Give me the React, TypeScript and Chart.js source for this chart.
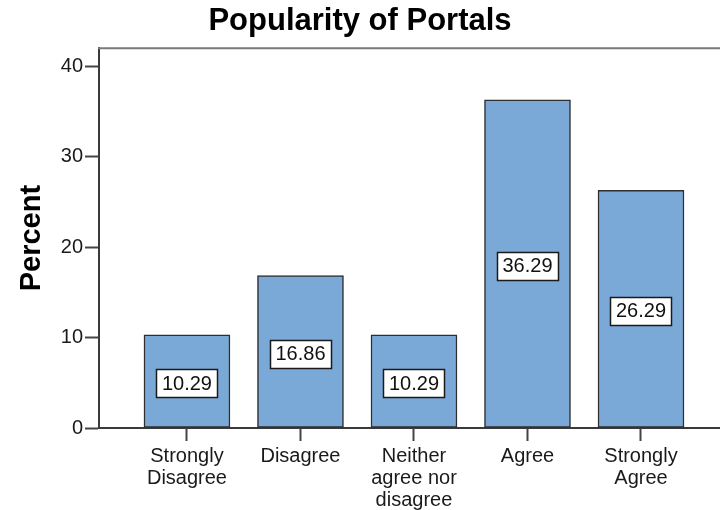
import React, { useEffect, useRef } from "react";
import { Chart, registerables } from "chart.js";

Chart.register(...registerables);

const chartTitle = "Popularity of Portals";
const yAxisTitle = "Percent";
const categories: string[][] = [
  ["Strongly", "Disagree"],
  ["Disagree"],
  ["Neither", "agree nor", "disagree"],
  ["Agree"],
  ["Strongly", "Agree"],
];
const percentValues: number[] = [10.29, 16.86, 10.29, 36.29, 26.29];
const yTickValues: number[] = [0, 10, 20, 30, 40];

const FONT = "'Liberation Sans', Arial, Helvetica, sans-serif";
const BAR_COLOR = "#7aa9d8";

const valueBoxPlugin = {
  id: "valueBoxes",
  afterDatasetsDraw(chart: any) {
    const ctx = chart.ctx;
    const meta = chart.getDatasetMeta(0);
    ctx.save();
    ctx.font = `20px ${FONT}`;
    meta.data.forEach((bar: any, i: number) => {
      const text = percentValues[i].toFixed(2);
      const { x, y, base } = bar.getProps(["x", "y", "base"], true);
      const cy = (y + base) / 2 + 2;
      const w = Math.round(ctx.measureText(text).width + 11);
      const h = 28;
      const lx = Math.round(x - w / 2) + 0.5;
      const ty = Math.round(cy - h / 2) + 0.5;
      ctx.fillStyle = "#ffffff";
      ctx.fillRect(lx, ty, w, h);
      ctx.strokeStyle = "#1a1a1a";
      ctx.lineWidth = 1.5;
      ctx.strokeRect(lx, ty, w, h);
      ctx.fillStyle = "#111111";
      ctx.textAlign = "center";
      ctx.textBaseline = "middle";
      ctx.fillText(text, x, cy + 1);
    });
    ctx.restore();
  },
};

const frameTopPlugin = {
  id: "frameTop",
  afterDraw(chart: any) {
    const { left, right, top } = chart.chartArea;
    const ctx = chart.ctx;
    ctx.save();
    ctx.strokeStyle = "#7a7a7a";
    ctx.lineWidth = 2;
    ctx.beginPath();
    ctx.moveTo(left - 1, top);
    ctx.lineTo(right + 10, top);
    ctx.stroke();
    ctx.restore();
  },
};

export default function App() {
  const canvasRef = useRef<HTMLCanvasElement | null>(null);

  useEffect(() => {
    if (!canvasRef.current) return;
    const chart = new Chart(canvasRef.current, {
      type: "bar",
      data: {
        datasets: [
          {
            label: yAxisTitle,
            data: percentValues.map((v, i) => ({ x: i, y: v })),
            backgroundColor: BAR_COLOR,
            borderColor: "#2e2e2e",
            borderWidth: 1.5,
            borderSkipped: false,
            barThickness: 86,
          },
        ],
      },
      options: {
        responsive: false,
        animation: false,
        events: [],
        layout: { padding: 0 },
        plugins: {
          legend: { display: false },
          tooltip: { enabled: false },
          title: {
            display: true,
            text: chartTitle,
            color: "#000000",
            font: { family: FONT, size: 31, weight: "bold" },
            padding: { top: 3, bottom: 8 },
          },
        },
        scales: {
          x: {
            type: "linear",
            offset: false,
            min: -0.775,
            max: 4.696,
            afterBuildTicks(scale: any) {
              scale.ticks = categories.map((_, i) => ({ value: i }));
            },
            afterFit(scale: any) {
              scale.height = 82;
            },
            ticks: {
              autoSkip: false,
              maxRotation: 0,
              padding: 4,
              color: "#1a1a1a",
              font: { family: FONT, size: 20, lineHeight: 1.1 },
              callback: (value: any) => categories[Math.round(Number(value))] ?? "",
            },
            grid: {
              offset: false,
              drawOnChartArea: false,
              drawTicks: true,
              tickLength: 13,
              tickWidth: 2,
              tickColor: "#444444",
            },
            border: { display: true, color: "#3a3a3a", width: 2 },
          },
          y: {
            type: "linear",
            min: 0,
            max: 42,
            afterBuildTicks(scale: any) {
              scale.ticks = yTickValues.map((v) => ({ value: v }));
            },
            afterFit(scale: any) {
              scale.width = 99;
            },
            ticks: {
              padding: 2,
              color: "#1a1a1a",
              font: { family: FONT, size: 20 },
            },
            grid: {
              drawOnChartArea: false,
              drawTicks: true,
              tickLength: 14,
              tickWidth: 2,
              tickColor: "#444444",
            },
            border: { display: true, color: "#3a3a3a", width: 2 },
            title: {
              display: true,
              text: yAxisTitle,
              color: "#000000",
              font: { family: FONT, size: 29, weight: "bold" },
              padding: { top: 15, bottom: 0 },
            },
          },
        },
      },
      plugins: [valueBoxPlugin, frameTopPlugin],
    } as any);
    return () => chart.destroy();
  }, []);

  return (
    <div style={{ position: "fixed", left: 0, top: 0, width: 720, height: 510, background: "#fff", overflow: "hidden" }}>
      <canvas ref={canvasRef} width={720} height={510} style={{ display: "block" }} />
    </div>
  );
}
